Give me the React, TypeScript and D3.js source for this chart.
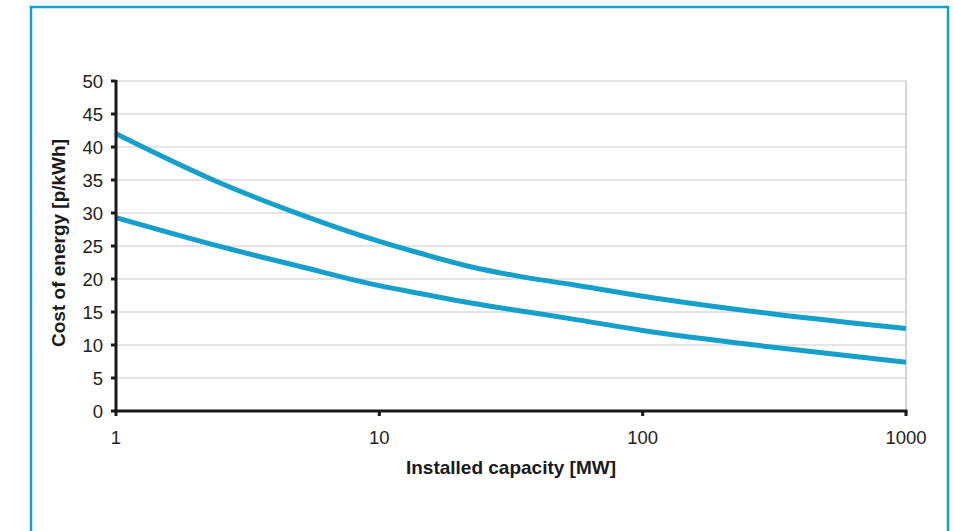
import React from 'react';
import { scaleLog, scaleLinear, line, curveMonotoneX } from 'd3';

// capacity in MW (log axis)
const capacity = [1, 2.5, 5, 10, 14.3, 22, 34, 53, 100, 314, 1000];
const upperCost = [42, 34.5, 29.8, 25.7, 23.9, 21.9, 20.4, 19.2, 17.4, 14.7, 12.5];
const lowerCost = [29.3, 24.9, 21.9, 19.0, 17.8, 16.4, 15.2, 14.0, 12.2, 9.65, 7.4];

const yTicks = [0, 5, 10, 15, 20, 25, 30, 35, 40, 45, 50];
const xTicks = [1, 10, 100, 1000];

const W = 954;
const H = 531;
const left = 116, right = 906, top = 81, bottom = 411;
const blue = '#169fca';
const font = '"Liberation Sans", Arial, sans-serif';

export default function App() {
  const x = scaleLog().domain([1, 1000]).range([left, right]);
  const y = scaleLinear().domain([0, 50]).range([bottom, top]);

  const path = (vals: number[]) =>
    line<number>()
      .x((_, i) => x(capacity[i]))
      .y(d => y(d))
      .curve(curveMonotoneX)(vals) || '';

  return (
    <svg width={W} height={H} style={{ position: 'absolute', left: 0, top: 0, background: '#fff' }}>
      <rect x={31} y={7} width={917} height={560} fill="none" stroke={blue} strokeWidth={2.5} />

      {/* grid */}
      {yTicks.filter(t => t > 0).map(t => (
        <line key={t} x1={left} x2={right} y1={y(t)} y2={y(t)} stroke="#c9c9c9" strokeWidth={1.2} />
      ))}
      <line x1={right} x2={right} y1={top} y2={bottom} stroke="#c9c9c9" strokeWidth={1.5} />

      {/* series */}
      <path d={path(upperCost)} fill="none" stroke={blue} strokeWidth={5} />
      <path d={path(lowerCost)} fill="none" stroke={blue} strokeWidth={5} />

      {/* axes */}
      <line x1={left} x2={left} y1={top - 1} y2={bottom + 1.5} stroke="#1a1a1a" strokeWidth={3} />
      <line x1={left - 1.5} x2={right + 1.5} y1={bottom} y2={bottom} stroke="#1a1a1a" strokeWidth={3} />
      {yTicks.map(t => (
        <g key={t}>
          <line x1={left - 5} x2={left} y1={y(t)} y2={y(t)} stroke="#1a1a1a" strokeWidth={3} />
          <text x={103} y={y(t)} dy="0.36em" textAnchor="end" fontFamily={font} fontSize={18.5} fill="#222">
            {t}
          </text>
        </g>
      ))}
      {xTicks.map(t => (
        <g key={t}>
          <line x1={x(t)} x2={x(t)} y1={bottom} y2={bottom + 5} stroke="#1a1a1a" strokeWidth={3} />
          <text x={x(t)} y={444} textAnchor="middle" fontFamily={font} fontSize={18.5} fill="#222">
            {t}
          </text>
        </g>
      ))}

      <text x={511} y={474} textAnchor="middle" fontFamily={font} fontSize={19} fontWeight="bold" fill="#1a1a1a">
        Installed capacity [MW]
      </text>
      <text
        transform={`translate(65,${(top + bottom) / 2 - 3}) rotate(-90)`}
        textAnchor="middle"
        fontFamily={font}
        fontSize={19}
        fontWeight="bold"
        fill="#1a1a1a"
      >
        Cost of energy [p/kWh]
      </text>
    </svg>
  );
}
